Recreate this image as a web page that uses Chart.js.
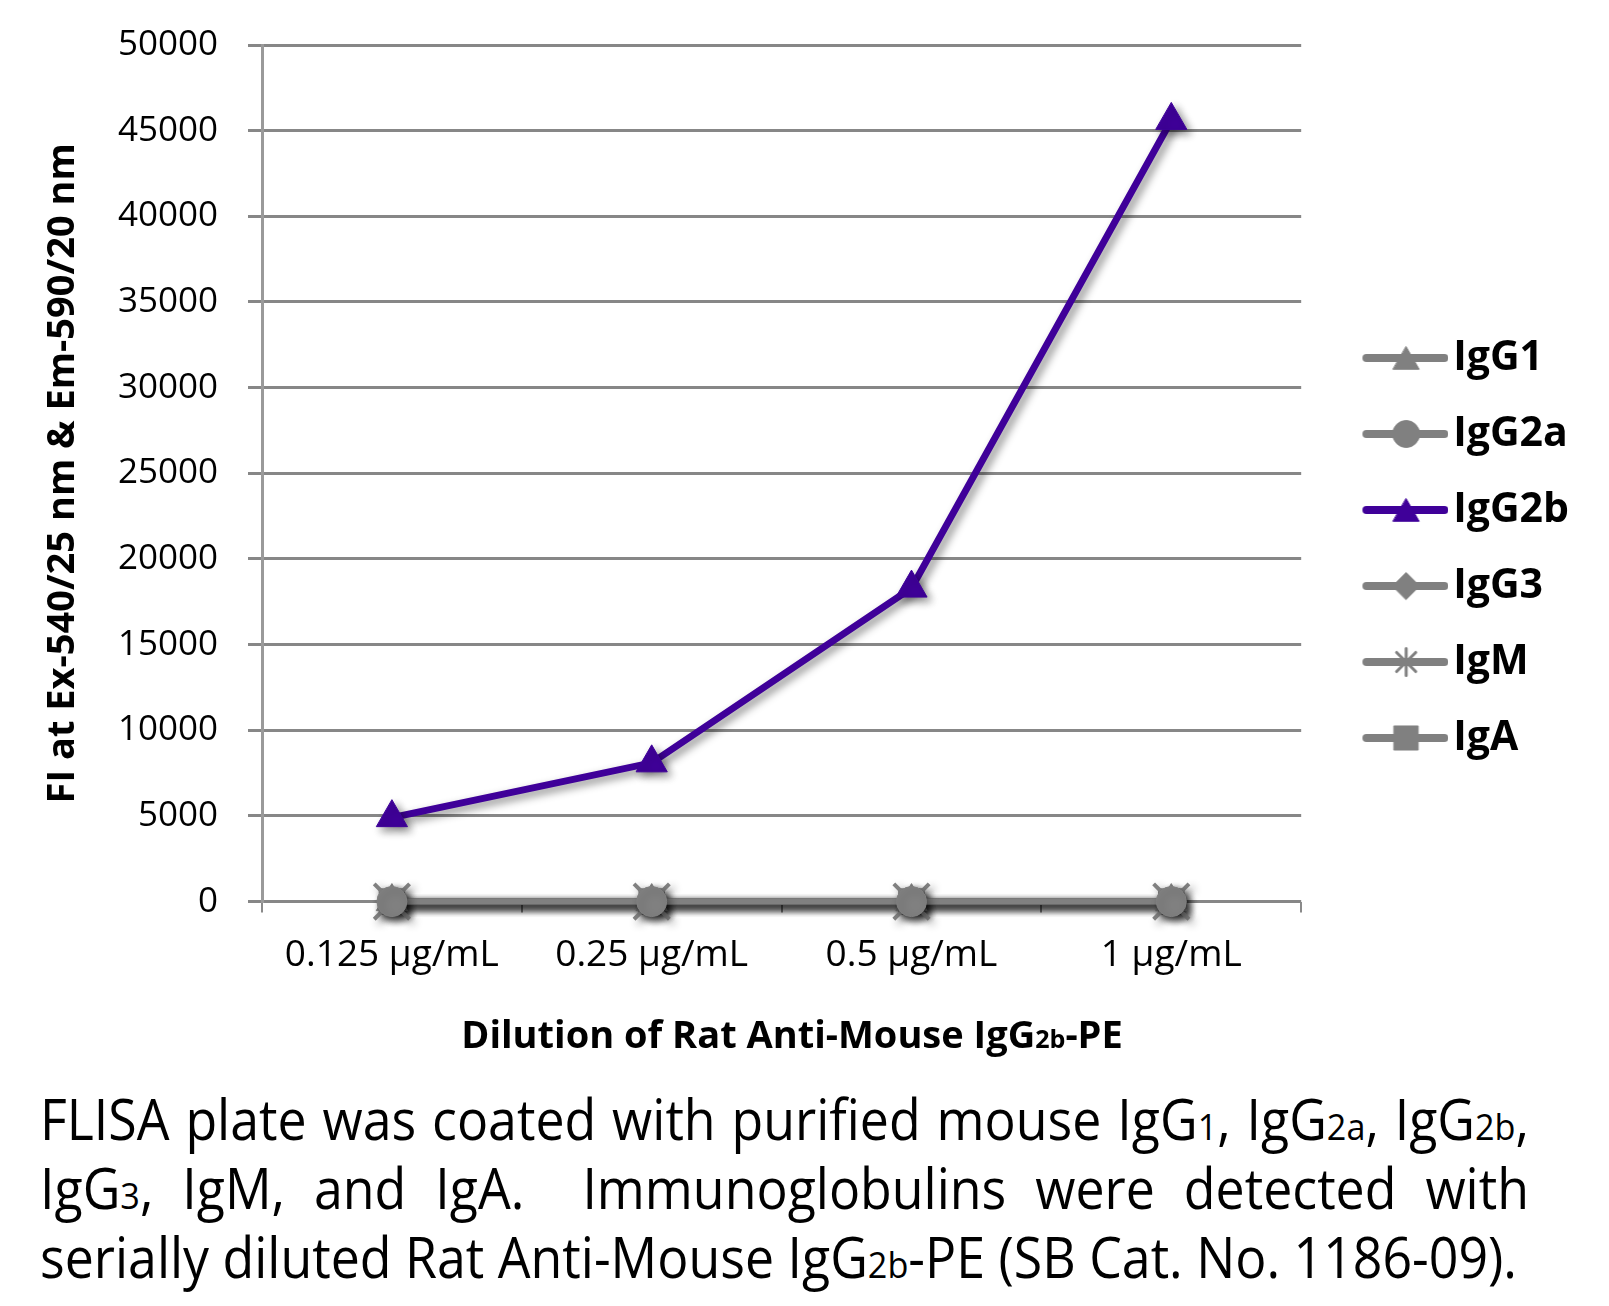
<!DOCTYPE html>
<html>
<head>
<meta charset="utf-8">
<script src="https://cdn.jsdelivr.net/npm/chart.js@4.4.1/dist/chart.umd.min.js"></script>
<style>
  body { margin: 0; background: #fff; font-family: 'Open Sans', sans-serif; color: #000; }
  #wrap { position: relative; width: 1609px; height: 1306px; overflow: hidden; }
  #chartBox { position: absolute; left: 0; top: 0; width: 1609px; height: 1010px; }
  #xTitle { position: absolute; top: 1008px; left: 792px; transform: translateX(-50%);
            font-weight: 700; font-size: 38px; line-height: 50px; white-space: nowrap; }
  .sm { font-size: 66%; line-height: 1; }
  #caption { position: absolute; left: 40px; top: 1084px; font-size: 56px; line-height: 69px;
             transform-origin: 0 0; }
  #caption div { white-space: nowrap; }
  #caption .just { text-align: justify; text-align-last: justify; }
  #cap3 { display: inline-block; }
</style>
</head>
<body>
<div id="wrap">
  <div id="chartBox"><canvas id="chart"></canvas></div>
  <div id="xTitle">Dilution of Rat Anti-Mouse IgG<span class="sm">2b</span>-PE</div>
  <div id="caption">
    <div class="just">FLISA plate was coated with purified mouse IgG<span class="sm">1</span>, IgG<span class="sm">2a</span>, IgG<span class="sm">2b</span>,</div>
    <div class="just">IgG<span class="sm">3</span>, IgM, and IgA.&nbsp; Immunoglobulins were detected with</div>
    <div><span id="cap3">serially diluted Rat Anti-Mouse IgG<span class="sm">2b</span>-PE (SB Cat. No. 1186-09).</span></div>
  </div>
</div>

<script>
  // data
  const doses = ['0.125 µg/mL', '0.25 µg/mL', '0.5 µg/mL', '1 µg/mL'];
  const seriesNames = ['IgG1', 'IgG2a', 'IgG2b', 'IgG3', 'IgM', 'IgA'];
  const igG1 = [0, 0, 0, 0];
  const igG2a = [0, 0, 0, 0];
  const igG2b = [4900, 8100, 18300, 45600];
  const igG3 = [0, 0, 0, 0];
  const igM = [0, 0, 0, 0];
  const igA = [0, 0, 0, 0];
  const yMin = 0, yMax = 50000, yStep = 5000;

  const GRAY = '#808080';
  const PURPLE = '#3f0099';

  // caption: squeeze the text to the width of the original block
  function fitCaption() {
    const cap = document.getElementById('caption');
    cap.style.transform = 'none';
    const w3 = document.getElementById('cap3').getBoundingClientRect().width;
    const s = 1477 / w3;
    cap.style.transform = 'scaleX(' + s + ')';
    cap.querySelectorAll('.just').forEach(d => { d.style.width = (1489 / s) + 'px'; });
  }
  fitCaption();
  if (document.fonts) document.fonts.ready.then(fitCaption);

  // legend icon: line with marker, like the Excel legend
  function legendIcon(color, style, r) {
    const c = document.createElement('canvas');
    c.width = 128; c.height = 36;
    const g = c.getContext('2d');
    g.strokeStyle = color;
    g.fillStyle = color;
    g.lineWidth = 8;
    g.lineCap = 'round';
    g.beginPath(); g.moveTo(46, 18); g.lineTo(124, 18); g.stroke();
    const dy = style === 'triangle' ? r / 4 : 0;
    g.lineWidth = style === 'star' ? 3 : 1;
    Chart.helpers.drawPoint(g, { pointStyle: style, radius: r, borderWidth: g.lineWidth, rotation: 0 }, 85.75, 18 + dy);
    return c;
  }

  const styles = ['triangle', 'circle', 'triangle', 'rectRot', 'star', 'rect'];
  const chartStyles = ['triangle', 'circle', 'triangle', 'rectRot', 'crossRot', 'rect'];
  const radii = [18, 15, 18, 15, 25, 18];
  const legendRadii = [15, 13.5, 15, 13.5, 13.5, 17];
  const colors = [GRAY, GRAY, PURPLE, GRAY, GRAY, GRAY];
  const widths = [6, 6, 7, 6, 6, 6];
  const values = [igG1, igG2a, igG2b, igG3, igM, igA];
  // draw order: lower = on top
  const drawOrder = [3, 1, 0, 4, 2, 5];

  const datasets = seriesNames.map((name, i) => ({
    label: name,
    data: values[i],
    borderColor: colors[i],
    backgroundColor: colors[i],
    borderWidth: widths[i],
    pointStyle: chartStyles[i],
    pointRadius: radii[i],
    pointHoverRadius: radii[i],
    pointBorderWidth: chartStyles[i] === 'crossRot' ? 4 : 1,
    pointBackgroundColor: colors[i],
    pointBorderColor: colors[i],
    tension: 0,
    clip: false,
    order: drawOrder[i]
  }));

  const shadowPlugin = {
    id: 'shadow',
    beforeDatasetsDraw(chart) {
      const c = chart.ctx;
      c.save();
      c.shadowColor = 'rgba(0,0,0,0.45)';
      c.shadowBlur = 8;
      c.shadowOffsetX = 4;
      c.shadowOffsetY = 4;
    },
    afterDatasetsDraw(chart) {
      chart.ctx.restore();
    }
  };

  Chart.defaults.font.family = "'Open Sans', sans-serif";
  Chart.defaults.color = '#000';

  new Chart(document.getElementById('chart').getContext('2d'), {
    type: 'line',
    data: { labels: doses, datasets: datasets },
    plugins: [shadowPlugin],
    options: {
      responsive: true,
      maintainAspectRatio: false,
      animation: false,
      layout: { padding: { left: 10, right: 30, top: 45, bottom: 11 } },
      plugins: {
        tooltip: { enabled: false },
        legend: {
          position: 'right',
          align: 'center',
          title: { display: true, text: ' ', padding: { top: 0, bottom: 37.6 } },
          labels: {
            usePointStyle: true,
            pointStyleWidth: 96.5,
            padding: 35,
            color: '#000',
            font: { size: 41, weight: 'bold' },
            generateLabels(chart) {
              return chart.data.datasets.map((ds, i) => ({
                text: ds.label,
                fillStyle: colors[i],
                strokeStyle: colors[i],
                lineWidth: 0,
                hidden: false,
                datasetIndex: i,
                fontColor: '#000',
                pointStyle: legendIcon(colors[i], styles[i], legendRadii[i])
              }));
            }
          }
        }
      },
      scales: {
        x: {
          offset: true,
          grid: {
            offset: true,
            drawOnChartArea: false,
            drawTicks: true,
            tickLength: 11,
            color: '#8a8a8a',
            lineWidth: 2
          },
          border: { display: false },
          ticks: { font: { size: 37 }, color: '#000', padding: 21, maxRotation: 0 }
        },
        y: {
          min: yMin,
          max: yMax,
          grid: { color: '#878787', lineWidth: 3, tickLength: 14 },
          border: { display: true, color: '#9a9a9a', width: 3 },
          ticks: {
            stepSize: yStep,
            font: { size: 35, lineHeight: 0.8 },
            color: '#000',
            padding: 30,
            callback: v => String(v)
          },
          title: {
            display: true,
            text: 'FI at Ex-540/25 nm & Em-590/20 nm',
            font: { size: 38, weight: 'bold' },
            color: '#000',
            padding: { top: 30, bottom: 0 }
          },
          afterFit(scale) { scale.width = 252; }
        }
      }
    }
  });
</script>
</body>
</html>
